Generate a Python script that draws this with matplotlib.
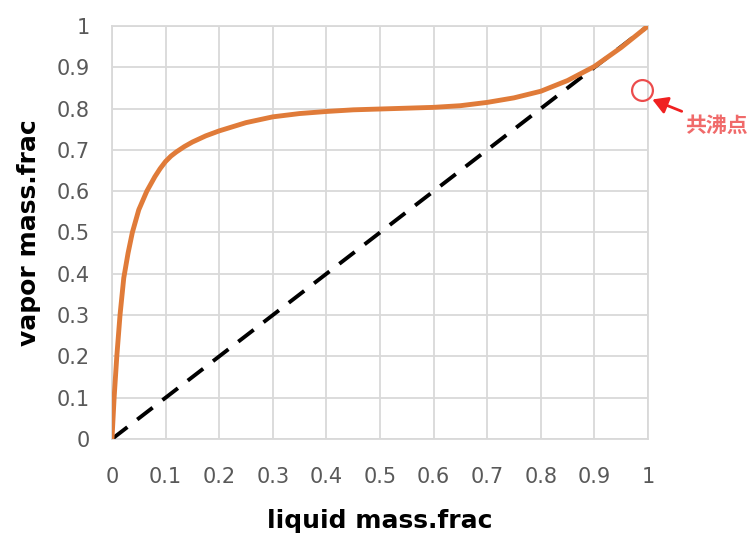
import matplotlib
matplotlib.use("Agg")
import matplotlib.pyplot as plt

# liquid / vapor mass fractions of the equilibrium curve
liquid_frac = [0.0, 0.004, 0.009, 0.015, 0.022, 0.03, 0.038, 0.05, 0.065,
               0.08, 0.09, 0.1, 0.11, 0.12, 0.135, 0.15, 0.175, 0.2, 0.25, 0.3,
               0.35, 0.4, 0.45, 0.5, 0.55, 0.6, 0.65, 0.7, 0.75, 0.8, 0.85,
               0.9, 0.95, 1.0]
vapor_frac = [0.0, 0.1, 0.2, 0.3, 0.39, 0.45, 0.5, 0.555, 0.6,
              0.635, 0.655, 0.672, 0.685, 0.695, 0.708, 0.719, 0.734, 0.746, 0.766, 0.78,
              0.788, 0.793, 0.797, 0.799, 0.801, 0.803, 0.807, 0.815, 0.826, 0.842, 0.868,
              0.902, 0.948, 1.0]

# reference line y = x
diag = [0.0, 1.0]

ticks = [0, 0.1, 0.2, 0.3, 0.4, 0.5, 0.6, 0.7, 0.8, 0.9, 1]
tick_labels = ["0", "0.1", "0.2", "0.3", "0.4", "0.5", "0.6", "0.7", "0.8", "0.9", "1"]

# azeotrope marker position and label
azeo_point = (0.989, 0.845)
azeo_label = "共沸点"

fig = plt.figure(figsize=(7.5, 5.37), dpi=100)
ax = fig.add_axes([0.1493, 0.1825, 0.7147, 0.7691])

ax.plot(diag, diag, color="black", lw=2.8, dashes=(5.0, 3.2), zorder=3)
ax.plot(liquid_frac, vapor_frac, color="#E07B39", lw=3.5, zorder=4,
        solid_capstyle="round", solid_joinstyle="round")

ax.set_xlim(0, 1)
ax.set_ylim(0, 1)
ax.set_xticks(ticks)
ax.set_yticks(ticks)
ax.set_xticklabels(tick_labels)
ax.set_yticklabels(tick_labels)
ax.grid(True, color="#d9d9d9", lw=1.3)
ax.set_axisbelow(True)
for s in ax.spines.values():
    s.set_color("#d9d9d9")
    s.set_linewidth(1.3)
ax.tick_params(axis="both", length=0, labelsize=15, labelcolor="#595959")
ax.tick_params(axis="x", pad=20)
ax.tick_params(axis="y", pad=16)

ax.set_xlabel("liquid mass.frac", fontsize=18, fontweight="bold", labelpad=16)
ax.set_ylabel("vapor mass.frac", fontsize=18, fontweight="bold", labelpad=11)

# azeotrope callout
ax.plot([azeo_point[0]], [azeo_point[1]], marker="o", markersize=15,
        mfc="none", mec="#ec4c4c", mew=1.6, clip_on=False, zorder=5)
ax.annotate(azeo_label, xy=(1.008, 0.822), xytext=(1.127, 0.76),
            textcoords="data", ha="center", va="center",
            fontsize=15, color="#f06a6a", fontweight="bold",
            family=["Noto Sans CJK JP", "DejaVu Sans"],
            arrowprops=dict(arrowstyle="-|>,head_length=0.6,head_width=0.35",
                            color="#f02020", lw=2.0, shrinkA=1, shrinkB=0),
            annotation_clip=False)

fig.savefig("out.png", dpi=100)
